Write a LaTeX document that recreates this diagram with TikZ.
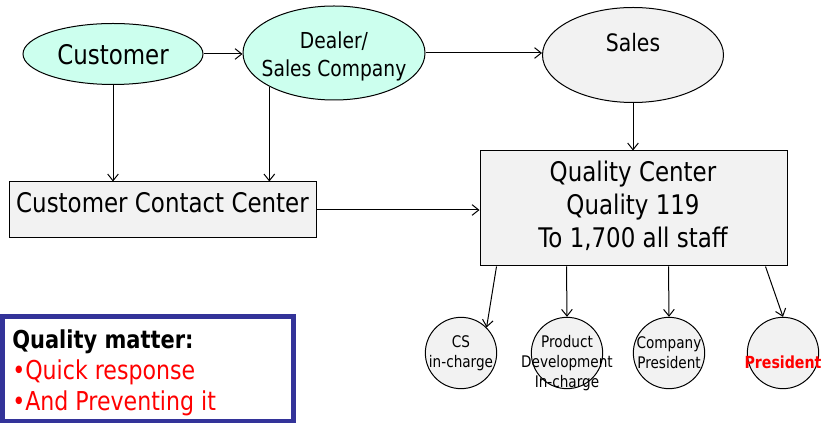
\documentclass[tikz,border=0pt]{standalone}
\usepackage{fontspec}
\setmainfont{DejaVu Sans}[FakeStretch=0.85]
\usetikzlibrary{arrows.meta,shapes.geometric}
\definecolor{mint}{RGB}{204,255,238}
\definecolor{boxgray}{RGB}{242,242,242}
\definecolor{qmblue}{RGB}{51,51,153}
\definecolor{qred}{RGB}{255,0,0}
\tikzset{
  px/.style={x=0.75pt,y=-0.75pt},
  conn/.style={draw=black,line width=0.75pt,-{Straight Barb[length=5pt,width=8pt,line width=0.75pt]}},
  ell/.style={ellipse,draw=black,line width=0.75pt,inner sep=0pt},
  mintell/.style={ell,fill=mint},
  grayell/.style={ell,fill=boxgray},
  graybox/.style={rectangle,draw=black,line width=0.75pt,fill=boxgray,inner sep=0pt},
  circ/.style={circle,draw=black,line width=0.75pt,fill=boxgray,inner sep=0pt,minimum size=53.5pt},
  txt/.style={inner sep=0pt,align=center},
  bigtxt/.style={txt,font=\fontsize{20.25}{24.75}\selectfont},
  smalltxt/.style={txt,font=\fontsize{12}{15}\selectfont},
}
\begin{document}
\begin{tikzpicture}[px]
\useasboundingbox (0,0) rectangle (824,423);
% shapes
\node[mintell,minimum width=135pt,minimum height=45.75pt] (customer) at (113,54) {};
\node[mintell,minimum width=136.5pt,minimum height=70.5pt] (dealer) at (334,53) {};
\node[grayell,minimum width=135.75pt,minimum height=71.25pt] (sales) at (633,55) {};
\node[graybox,minimum width=230.25pt,minimum height=86.25pt] (qc) at (633.5,208.5) {};
\node[graybox,minimum width=230.25pt,minimum height=42pt] (ccc) at (162.5,210) {};
\node[circ] (cs) at (461,353) {};
\node[circ] (pd) at (567,353) {};
\node[circ] (cp) at (669,353) {};
\node[circ] (pres) at (783,353) {};
% texts
\node[bigtxt] (customer-t) at (113,55) {Customer};
\node[txt,font=\fontsize{16.5}{21}\selectfont] (dealer-t) at (334,56) {Dealer/\\Sales Company};
\node[txt,font=\fontsize{18}{22}\selectfont] (sales-t) at (633,43) {Sales};
\node[bigtxt] (qc-t) at (633,206) {Quality Center\\Quality 119\\To 1,700 all staff};
\node[bigtxt] (ccc-t) at (162.5,203) {Customer Contact Center};
\node[smalltxt] (cs-t) at (461,353) {CS\\in-charge};
\node[smalltxt] (pd-t) at (567,363) {Product\\Development\\In-charge};
\node[smalltxt] (cp-t) at (669,353) {Company\\President};
\node[txt,font=\fontsize{12.5}{15}\selectfont\bfseries,text=qred] (pres-t) at (783,362) {President};
% connectors
\draw[conn] (customer.east) -- (customer.east -| dealer.west);
\draw[conn] (dealer.east) -- (dealer.east -| sales.west);
\draw[conn] (customer.south) -- (customer.south |- ccc.north);
\draw[conn] (dealer.south west) -- (dealer.south west |- ccc.north);
\draw[conn] (sales.south) -- (sales.south |- qc.north);
\draw[conn] (ccc.east) -- (ccc.east -| qc.west);
\draw[conn] ([xshift=12.75pt]qc.south west) -- (cs.45);
\draw[conn] ([xshift=65.25pt]qc.south west) -- (pd.north);
\draw[conn] ([xshift=141.75pt]qc.south west) -- (cp.north);
\draw[conn] ([xshift=214.5pt]qc.south west) -- (pres.north);
% quality matter box
\node[rectangle,draw=qmblue,line width=3.75pt,fill=white,minimum width=218.25pt,minimum height=78.75pt,inner sep=0pt] (qm) at (148,369) {};
\node[anchor=west,inner sep=0pt,align=left,font=\fontsize{19.5}{23.25}\selectfont] (qm-t) at (12,373)
  {{\bfseries\fontsize{18.5}{23.25}\selectfont Quality matter:}\\\textcolor{qred}{•Quick response}\\\textcolor{qred}{•And Preventing it}};
\end{tikzpicture}
\end{document}
